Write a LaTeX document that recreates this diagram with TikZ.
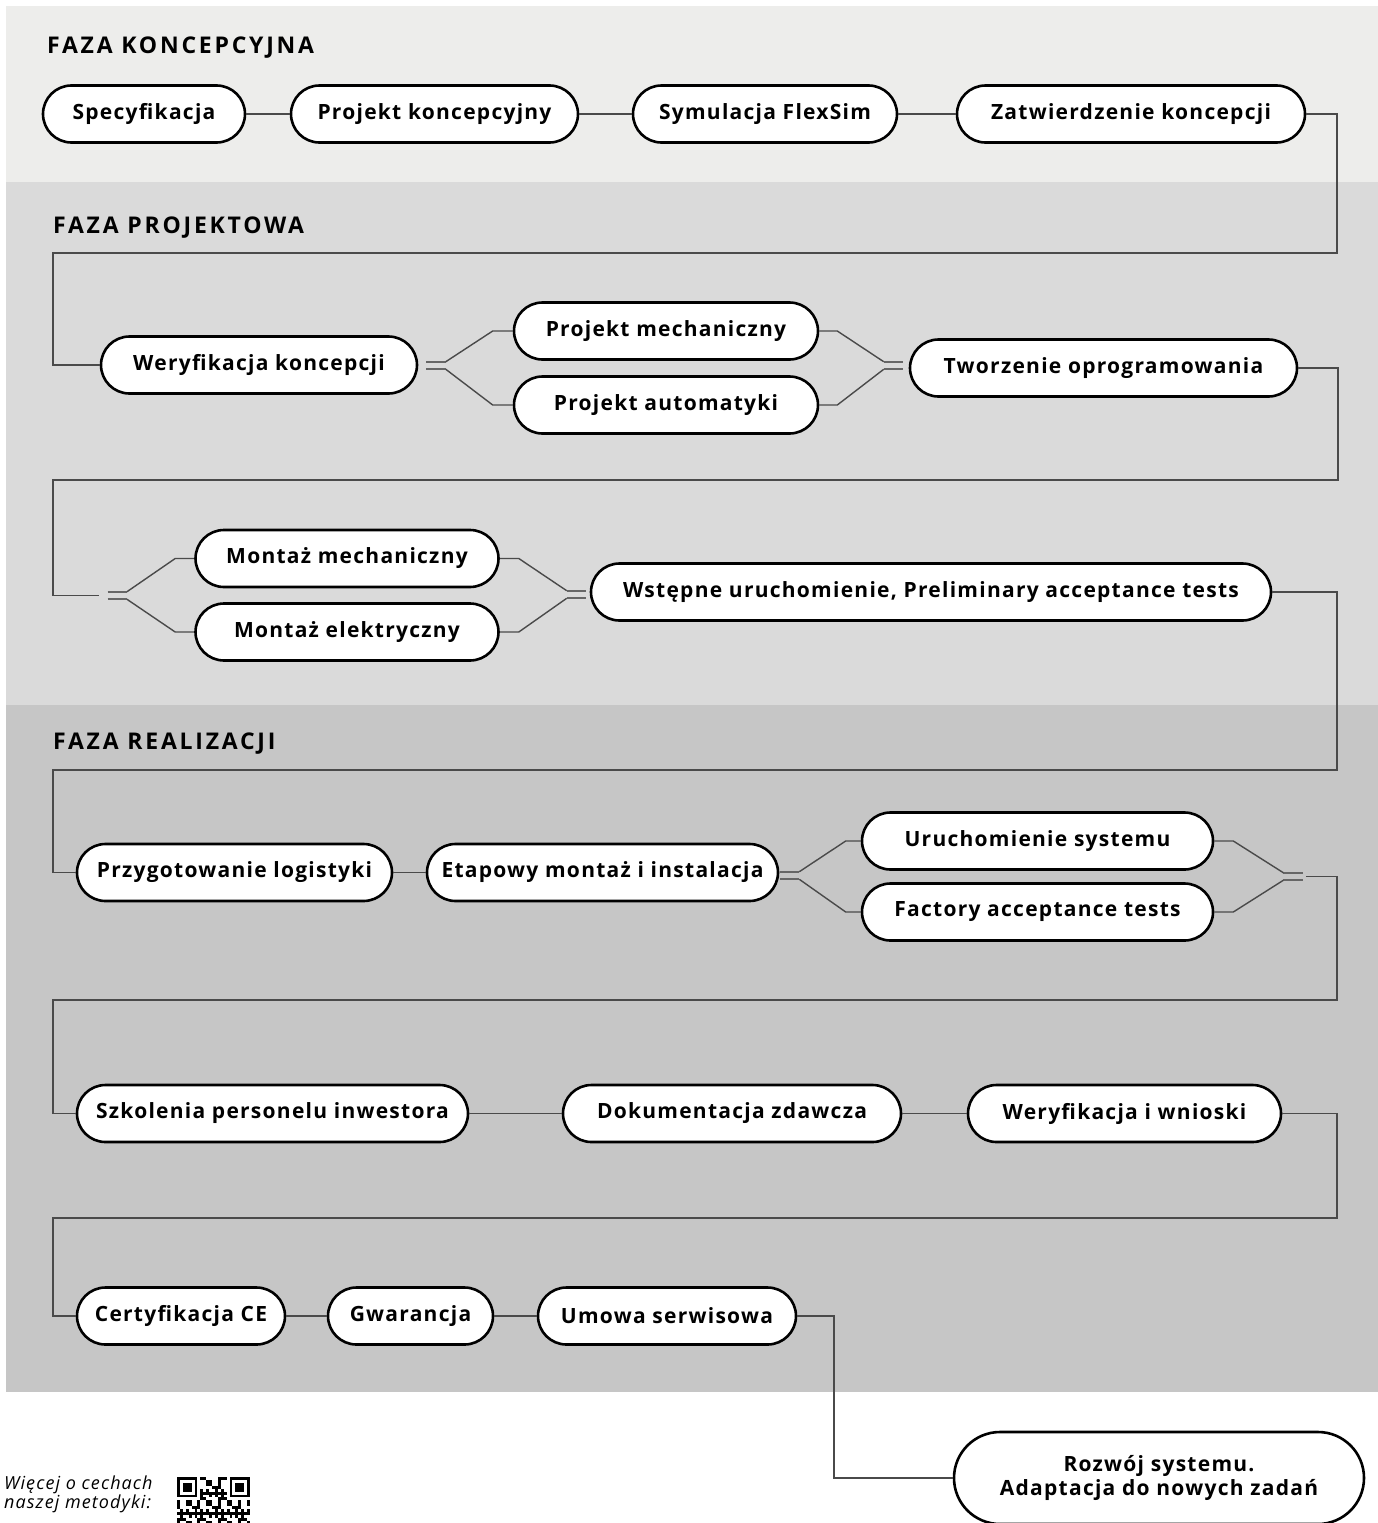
\documentclass[tikz,border=0pt]{standalone}
\usepackage{fontspec}
\setmainfont{Open Sans}
\newfontfamily\boxfont{Open Sans}[LetterSpace=6]
\newfontfamily\headfont{Open Sans}[LetterSpace=12]
\newfontfamily\notefont{Open Sans}[LetterSpace=6]
\usetikzlibrary{positioning, calc}
\definecolor{cBandA}{HTML}{EDEDEB}
\definecolor{cBandB}{HTML}{DADADA}
\definecolor{cBandC}{HTML}{C6C6C6}
\definecolor{cLink}{HTML}{4A4A4A}
\tikzset{
	pill/.style  ={rectangle, rounded corners=28.5pt, draw=black, line width=2.6pt, fill=white, minimum height=57pt, inner xsep=12pt, align=center, font={\boxfont\bfseries\fontsize{21}{24}\selectfont}},
	phase/.style ={anchor=base west, inner sep=0pt, font={\headfont\bfseries\fontsize{23}{26}\selectfont}},
	link/.style  ={draw=cLink, line width=1.4pt},
	dbl/.style   ={draw=black!60, line width=2pt},
}
\begin{document}
\begin{tikzpicture}[x=1pt, y=-1pt]
	\useasboundingbox (0,0) rectangle (1378,1523);
	% phase bands
	\fill[cBandA] (6,6) rectangle (1378,182);
	\fill[cBandB] (6,182) rectangle (1378,705);
	\fill[cBandC] (6,705) rectangle (1378,1392);
	\node[phase] (hkon) at (47,53) {FAZA KONCEPCYJNA};
	\node[phase] (hproj) at (53,233) {FAZA PROJEKTOWA};
	\node[phase] (hreal) at (53,749) {FAZA REALIZACJI};
	% steps
	\node[pill, minimum width=202pt] (spec) at (144,114) {Specyfikacja};
	\node[pill, minimum width=287pt] (pkon) at (434.5,114) {Projekt koncepcyjny};
	\node[pill, minimum width=264pt] (sym) at (765,114) {Symulacja FlexSim};
	\node[pill, minimum width=348pt] (zatw) at (1131,114) {Zatwierdzenie koncepcji};
	\node[pill, minimum width=316pt] (wer) at (259,365) {Weryfikacja koncepcji};
	\node[pill, minimum width=304pt] (pmech) at (666,331) {Projekt mechaniczny};
	\node[pill, minimum width=304pt] (pauto) at (666,405) {Projekt automatyki};
	\node[pill, minimum width=387pt] (tworz) at (1103.5,368) {Tworzenie oprogramowania};
	\node[pill, minimum width=303pt] (mmech) at (347,558.5) {Montaż mechaniczny};
	\node[pill, minimum width=303pt] (melek) at (347,632) {Montaż elektryczny};
	\node[pill, minimum width=680pt] (wstep) at (931,592) {Wstępne uruchomienie, Preliminary acceptance tests};
	\node[pill, minimum width=315pt] (logi) at (234.5,872.5) {Przygotowanie logistyki};
	\node[pill, minimum width=351pt] (etap) at (602.5,872.5) {Etapowy montaż i instalacja};
	\node[pill, minimum width=351pt] (uruch) at (1037.5,841) {Uruchomienie systemu};
	\node[pill, minimum width=351pt] (fat) at (1037.5,912) {Factory acceptance tests};
	\node[pill, minimum width=391pt] (szkol) at (272.5,1113.5) {Szkolenia personelu inwestora};
	\node[pill, minimum width=338pt] (dokum) at (732,1113.5) {Dokumentacja zdawcza};
	\node[pill, minimum width=313pt] (wnio) at (1124.5,1113.5) {Weryfikacja i wnioski};
	\node[pill, minimum width=208pt] (cert) at (181,1316) {Certyfikacja CE};
	\node[pill, minimum width=165pt] (gwar) at (410.5,1316) {Gwarancja};
	\node[pill, minimum width=258pt] (umowa) at (667,1316) {Umowa serwisowa};
	\node[pill, minimum height=92pt, rounded corners=46pt, minimum width=410pt] (rozw) at (1159,1478) {Rozwój systemu.\\Adaptacja do nowych zadań};
	% fork / join marks
	\coordinate (fk1) at ($(wer.east)+(8,0.5)$);
	\coordinate (jn1) at ($(tworz.west)+(-25,-2.5)$);
	\coordinate (fk2) at (107.5,595.5);
	\coordinate (jn2) at ($(wstep.west)+(-23,2.5)$);
	\coordinate (fk3) at ($(etap.east)+(0.5,3)$);
	\coordinate (jn3) at ($(uruch.east |- fat.east)+(69,-35.5)$);
	\coordinate (out2) at (99,595.5);
	\foreach \p in {fk1,jn1,fk2,jn2,fk3,jn3}
		\draw[dbl] ($(\p)+(0,-3.8)$) -- ++(19.5,0) ($(\p)+(0,3.8)$) -- ++(19.5,0);
	% straight links
	\draw[link] (spec) -- (pkon);
	\draw[link] (pkon) -- (sym);
	\draw[link] (sym) -- (zatw);
	\draw[link] (logi) -- (etap);
	\draw[link] (szkol) -- (dokum);
	\draw[link] (dokum) -- (wnio);
	\draw[link] (cert) -- (gwar);
	\draw[link] (gwar) -- (umowa);
	% branches
	\draw[link] ($(fk1)+(19.5,-3.8)$) -- ($(pmech.west)+(-20,0)$) -- (pmech.west);
	\draw[link] ($(fk1)+(19.5,3.8)$) -- ($(pauto.west)+(-20,0)$) -- (pauto.west);
	\draw[link] (pmech.east) -- ++(18,0) -- ($(jn1)+(0,-3.8)$);
	\draw[link] (pauto.east) -- ++(18,0) -- ($(jn1)+(0,3.8)$);
	\draw[link] ($(fk2)+(19.5,-3.8)$) -- ($(mmech.west)+(-19,0)$) -- (mmech.west);
	\draw[link] ($(fk2)+(19.5,3.8)$) -- ($(melek.west)+(-19,0)$) -- (melek.west);
	\draw[link] (mmech.east) -- ++(19,0) -- ($(jn2)+(0,-3.8)$);
	\draw[link] (melek.east) -- ++(19,0) -- ($(jn2)+(0,3.8)$);
	\draw[link] ($(fk3)+(19.5,-3.8)$) -- ($(uruch.west)+(-15,0)$) -- (uruch.west);
	\draw[link] ($(fk3)+(19.5,3.8)$) -- ($(fat.west)+(-15,0)$) -- (fat.west);
	\draw[link] (uruch.east) -- ++(19,0) -- ($(jn3)+(0,-3.8)$);
	\draw[link] (fat.east) -- ++(19,0) -- ($(jn3)+(0,3.8)$);
	% row-to-row links
	\draw[link] (zatw.east) -| (1337,253) -- (53,253) |- (wer.west);
	\draw[link] (tworz.east) -| (1338,480) -- (53,480) |- (out2);
	\draw[link] (wstep.east) -| (1337,770) -- (53,770) |- (logi.west);
	\draw[link] ($(jn3)+(23,0)$) -| (1337,1000) -- (53,1000) |- (szkol.west);
	\draw[link] (wnio.east) -| (1337,1218) -- (53,1218) |- (cert.west);
	\draw[link] (umowa.east) -| (834,1478) -- (rozw.west);
	% note and code
	\node[anchor=north west, inner sep=0pt, align=left, font={\notefont\itshape\fontsize{18}{17.5}\selectfont}] (note) at (4,1476) {Więcej o cechach\\naszej metodyki:};
	\begin{scope}[shift={(177,1477)}, x=2.92pt, y=-2.92pt]
		\foreach \i in {0,...,24}
			\foreach \j in {0,...,24} {
				\pgfmathtruncatemacro{\bit}{mod(\i*\i*7+\j*\j*3+\i*\j*11+\j*5+\i,7)<3}
				\ifnum\bit=1 \fill (\i,\j) rectangle ++(1,1); \fi
			}
		\foreach \fx/\fy in {0/0,18/0,0/18} {
			\fill[white] (\fx-1,\fy-1) rectangle ++(9,9);
			\fill (\fx,\fy) rectangle ++(7,7);
			\fill[white] (\fx+1,\fy+1) rectangle ++(5,5);
			\fill (\fx+2,\fy+2) rectangle ++(3,3);
		}
	\end{scope}
\end{tikzpicture}
\end{document}
